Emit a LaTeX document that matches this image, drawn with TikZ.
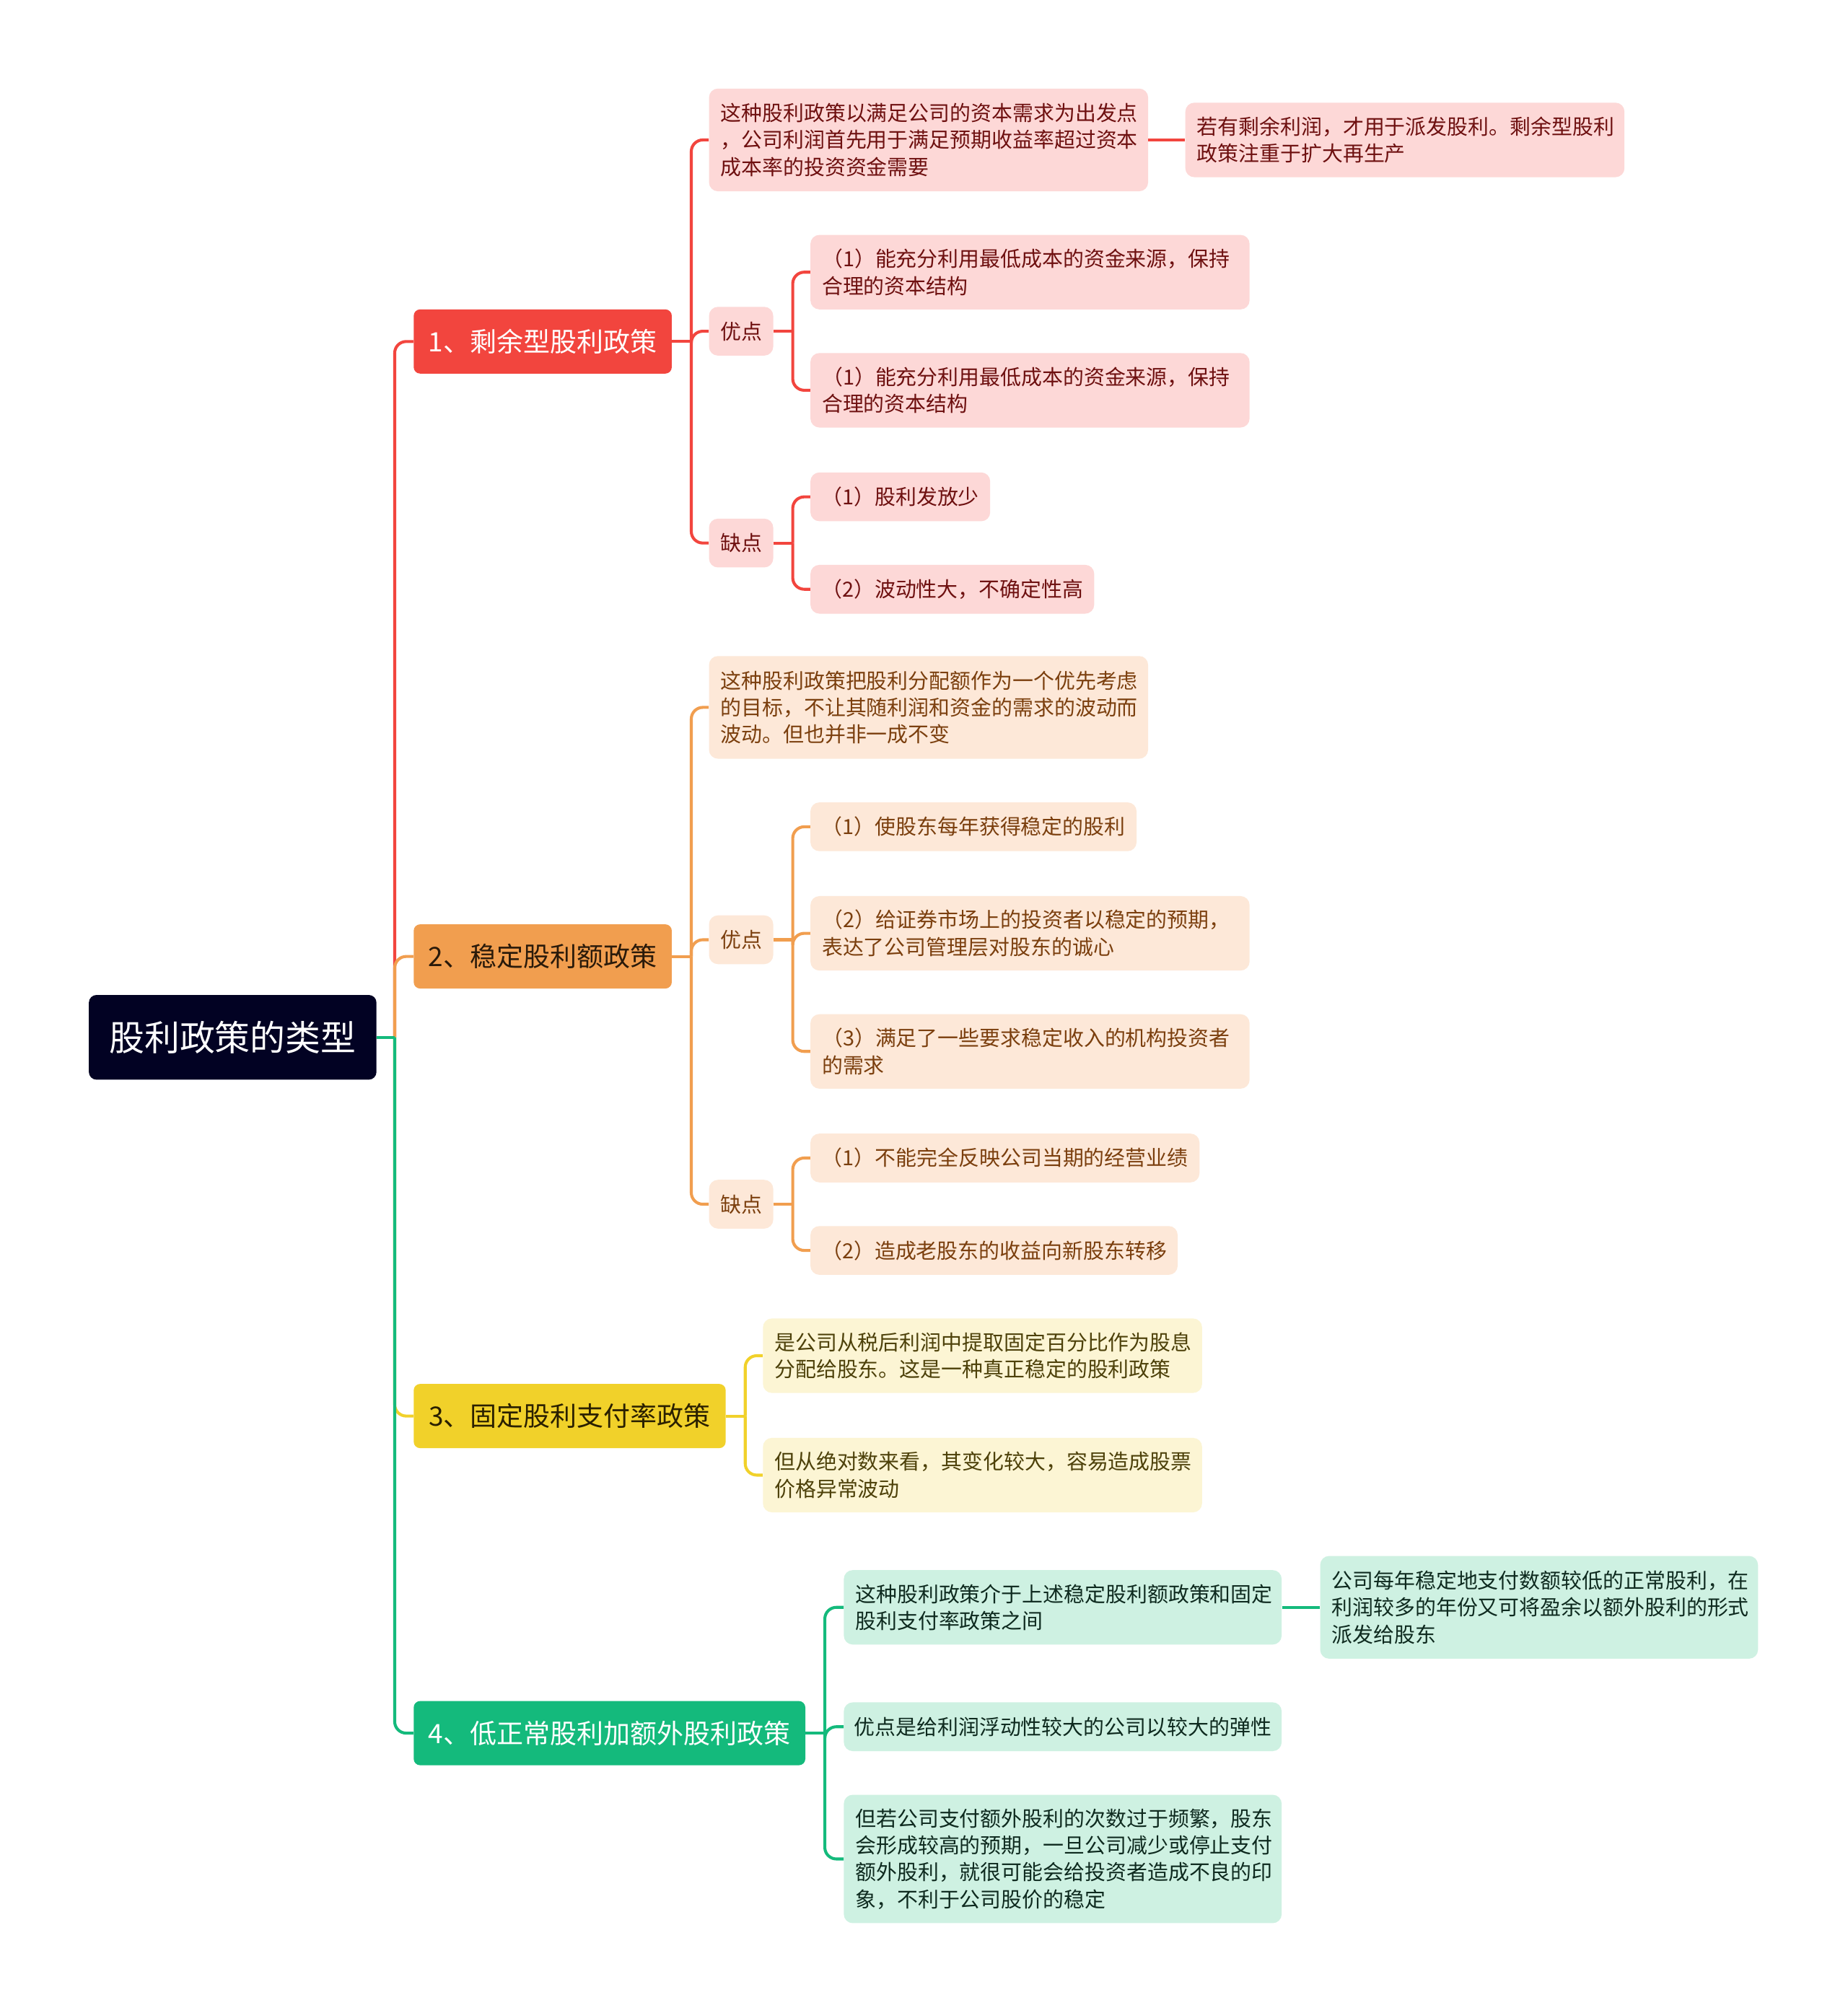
\documentclass[tikz,border=0pt]{standalone}
\usepackage{fontspec}
\setmainfont{Noto Sans CJK SC}
\definecolor{rootC}{HTML}{020223}
\definecolor{redC}{HTML}{F2453E}
\definecolor{redL}{HTML}{FDD8D7}
\definecolor{redT}{HTML}{6E1010}
\definecolor{orgC}{HTML}{F19E4F}
\definecolor{orgL}{HTML}{FDE8D8}
\definecolor{orgT}{HTML}{7B3F0E}
\definecolor{orgH}{HTML}{2A1A0A}
\definecolor{yelC}{HTML}{F1D12A}
\definecolor{yelL}{HTML}{FCF5D4}
\definecolor{yelT}{HTML}{4D410A}
\definecolor{yelH}{HTML}{2A2000}
\definecolor{grnC}{HTML}{14BA7C}
\definecolor{grnL}{HTML}{CEF1E2}
\definecolor{grnT}{HTML}{0E2A1F}
\tikzset{
  rootbox/.style={fill=rootC, text=white, rounded corners=6pt, minimum width=224pt, minimum height=66pt, inner sep=0pt, font=\fontsize{27.5}{32}\selectfont, anchor=west},
  lv/.style={rounded corners=5pt, minimum height=50pt, inner sep=0pt, font=\fontsize{20.8}{24}\selectfont, anchor=west},
  leaf/.style={rounded corners=7pt, inner xsep=9pt, inner ysep=0pt, align=left, anchor=west, font=\fontsize{16.25}{21}\selectfont},
  one/.style={rounded corners=7pt, inner xsep=4pt, inner ysep=0pt, anchor=west, minimum height=38pt, font=\fontsize{16.25}{21}\selectfont},
  rl/.style={fill=redL, text=redT},
  ol/.style={fill=orgL, text=orgT},
  yl/.style={fill=yelL, text=yelT},
  gl/.style={fill=grnL, text=grnT},
  link/.style={line width=2.3pt, rounded corners=9pt},
}
\begin{document}
\begin{tikzpicture}[x=1pt,y=-1pt]
\useasboundingbox[fill=white] (0,0) rectangle (1439,1568);

% root
\node[rootbox] (root) at (69,808) {股利政策的类型};

% level 1
\node[lv, fill=redC, text=white, minimum width=201pt] (L1) at (322,266) {1、剩余型股利政策};
\node[lv, fill=orgC, text=orgH, minimum width=201pt] (L2) at (322,745) {2、稳定股利额政策};
\node[lv, fill=yelC, text=yelH, minimum width=243pt] (L3) at (322,1103) {3、固定股利支付率政策};
\node[lv, fill=grnC, text=white, minimum width=305pt] (L4) at (322,1350) {4、低正常股利加额外股利政策};

% branch 1
\node[leaf, rl, text width=324pt, minimum height=80pt] (a1) at (552,109) {这种股利政策以满足公司的资本需求为出发点\\，公司利润首先用于满足预期收益率超过资本\\成本率的投资资金需要};
\node[leaf, rl, text width=324pt, minimum height=58pt] (a1x) at (923,109) {若有剩余利润，才用于派发股利。剩余型股利\\政策注重于扩大再生产};
\node[one, rl, minimum width=50pt] (y1) at (552,258) {优点};
\node[leaf, rl, text width=324pt, minimum height=58pt] (y1a) at (631,212) {（1）能充分利用最低成本的资金来源，保持\\合理的资本结构};
\node[leaf, rl, text width=324pt, minimum height=58pt] (y1b) at (631,304) {（1）能充分利用最低成本的资金来源，保持\\合理的资本结构};
\node[one, rl, minimum width=50pt] (q1) at (552,423) {缺点};
\node[one, rl, minimum width=140pt] (q1a) at (631,387) {（1）股利发放少};
\node[one, rl, minimum width=221pt] (q1b) at (631,459) {（2）波动性大，不确定性高};

% branch 2
\node[leaf, ol, text width=324pt, minimum height=80pt] (a2) at (552,551) {这种股利政策把股利分配额作为一个优先考虑\\的目标，不让其随利润和资金的需求的波动而\\波动。但也并非一成不变};
\node[one, ol, minimum width=50pt] (y2) at (552,732) {优点};
\node[one, ol, minimum width=254pt] (y2a) at (631,644) {（1）使股东每年获得稳定的股利};
\node[leaf, ol, text width=324pt, minimum height=58pt] (y2b) at (631,727) {（2）给证券市场上的投资者以稳定的预期，\\表达了公司管理层对股东的诚心};
\node[leaf, ol, text width=324pt, minimum height=58pt] (y2c) at (631,819) {（3）满足了一些要求稳定收入的机构投资者\\的需求};
\node[one, ol, minimum width=50pt] (q2) at (552,938) {缺点};
\node[one, ol, minimum width=303pt] (q2a) at (631,902) {（1）不能完全反映公司当期的经营业绩};
\node[one, ol, minimum width=286pt] (q2b) at (631,974) {（2）造成老股东的收益向新股东转移};

% branch 3
\node[leaf, yl, text width=324pt, minimum height=58pt] (a3) at (594,1056) {是公司从税后利润中提取固定百分比作为股息\\分配给股东。这是一种真正稳定的股利政策};
\node[leaf, yl, text width=324pt, minimum height=58pt] (b3) at (594,1149) {但从绝对数来看，其变化较大，容易造成股票\\价格异常波动};

% branch 4
\node[leaf, gl, text width=323pt, minimum height=58pt] (a4) at (657,1252) {这种股利政策介于上述稳定股利额政策和固定\\股利支付率政策之间};
\node[leaf, gl, text width=323pt, minimum height=80pt] (a4x) at (1028,1252) {公司每年稳定地支付数额较低的正常股利，在\\利润较多的年份又可将盈余以额外股利的形式\\派发给股东};
\node[one, gl, minimum width=341pt] (b4) at (657,1345) {优点是给利润浮动性较大的公司以较大的弹性};
\node[leaf, gl, text width=323pt, minimum height=100pt] (c4) at (657,1448) {但若公司支付额外股利的次数过于频繁，股东\\会形成较高的预期，一旦公司减少或停止支付\\额外股利，就很可能会给投资者造成不良的印\\象，不利于公司股价的稳定};

% connectors: root trunk
\coordinate (j0) at ([xshift=14pt]root.east);
\draw[link, redC] (j0) |- (L1.west);
\draw[link, orgC] (j0) |- (L2.west);
\draw[link, yelC] (j0) |- (L3.west);
\draw[link, grnC] (j0) |- (L4.west);
\draw[link, grnC] (root.east) -- (j0);

% branch 1 connectors
\draw[link, redC] (L1.east) -- ++(15,0) coordinate (j1);
\draw[link, redC] (j1) |- (a1.west);
\draw[link, redC] (j1) |- (y1.west);
\draw[link, redC] (j1) |- (q1.west);
\draw[link, redC] (a1.east) -- (a1x.west);
\draw[link, redC] (y1.east) -- ++(15,0) coordinate (j1y);
\draw[link, redC] (j1y) |- (y1a.west);
\draw[link, redC] (j1y) |- (y1b.west);
\draw[link, redC] (q1.east) -- ++(15,0) coordinate (j1q);
\draw[link, redC] (j1q) |- (q1a.west);
\draw[link, redC] (j1q) |- (q1b.west);

% branch 2 connectors
\draw[link, orgC] (L2.east) -- ++(15,0) coordinate (j2);
\draw[link, orgC] (j2) |- (a2.west);
\draw[link, orgC] (j2) |- (y2.west);
\draw[link, orgC] (j2) |- (q2.west);
\draw[link, orgC] (y2.east) -- ++(15,0) coordinate (j2y);
\draw[link, orgC] (j2y) |- (y2a.west);
\draw[link, orgC] (j2y) |- (y2b.west);
\draw[link, orgC] (j2y) |- (y2c.west);
\draw[link, orgC] (q2.east) -- ++(15,0) coordinate (j2q);
\draw[link, orgC] (j2q) |- (q2a.west);
\draw[link, orgC] (j2q) |- (q2b.west);

% branch 3 connectors
\draw[link, yelC] (L3.east) -- ++(15,0) coordinate (j3);
\draw[link, yelC] (j3) |- (a3.west);
\draw[link, yelC] (j3) |- (b3.west);

% branch 4 connectors
\draw[link, grnC] (L4.east) -- ++(15,0) coordinate (j4);
\draw[link, grnC] (j4) |- (a4.west);
\draw[link, grnC] (j4) |- (b4.west);
\draw[link, grnC] (j4) |- (c4.west);
\draw[link, grnC] (a4.east) -- (a4x.west);
\end{tikzpicture}
\end{document}
